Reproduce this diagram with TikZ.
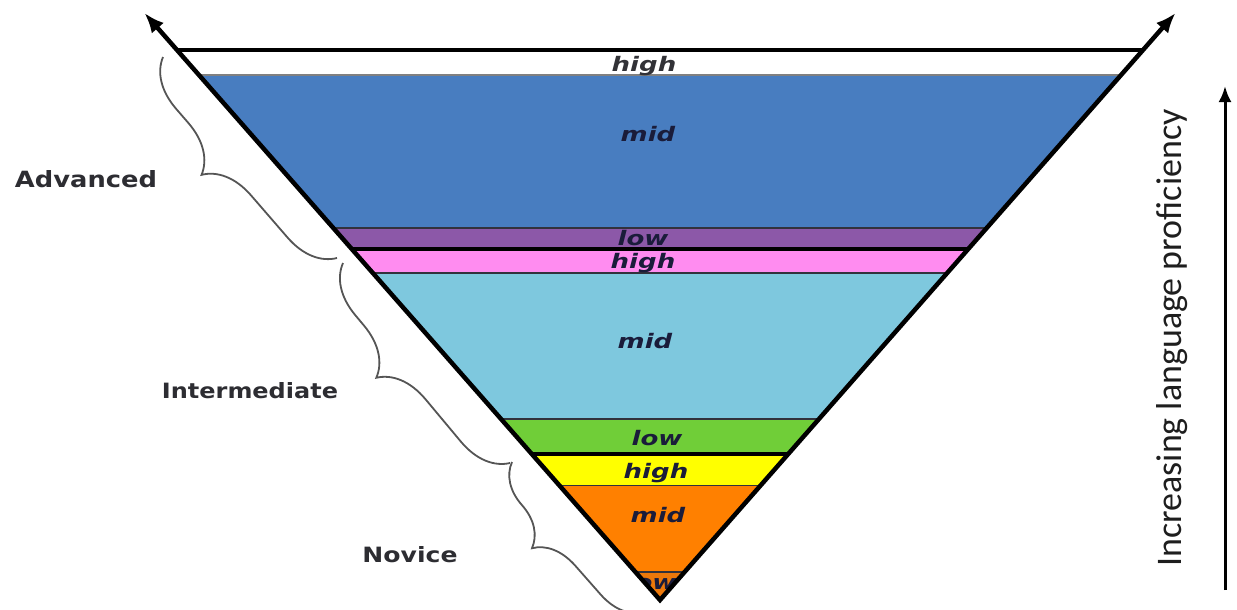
\documentclass[tikz,border=0pt]{standalone}
\usepackage{fontspec}
\setmainfont{DejaVu Sans}
\newfontfamily\carl{Carlito}
\newfontfamily\bandfam{DejaVu Sans}
\usetikzlibrary{decorations.pathreplacing,arrows.meta}
\definecolor{bandblue}{RGB}{72,125,192}
\definecolor{bandpurple}{RGB}{140,88,168}
\definecolor{bandpink}{RGB}{255,140,240}
\definecolor{bandlight}{RGB}{126,200,222}
\definecolor{bandgreen}{RGB}{112,206,56}
\definecolor{bandyellow}{RGB}{255,255,0}
\definecolor{bandorange}{RGB}{255,128,0}
\definecolor{banddark}{RGB}{236,120,10}
\definecolor{labcol}{RGB}{26,28,58}
\definecolor{sidecol}{RGB}{45,45,50}
\definecolor{sepcol}{RGB}{50,50,60}
\definecolor{bracecol}{RGB}{85,85,85}
\begin{document}
\begin{tikzpicture}[x=1pt,y=-1pt,
  bandlabel/.style={font=\bandfam\bfseries\itshape\fontsize{20pt}{22pt}\selectfont, text=labcol, xscale=1.3, inner sep=0pt},
  sidelabel/.style={font=\bfseries, text=sidecol, inner sep=0pt},
  sepline/.style={draw=sepcol, line width=1.2pt},
  bigsep/.style={draw=black, line width=4pt},
  bracestyle/.style={draw=bracecol, line width=1.8pt, decorate},
  edgeline/.style={draw=black, line width=4.5pt, line join=miter}
]
\useasboundingbox (0,0) rectangle (1237,610);
\coordinate (L) at (177,50);
\coordinate (R) at (1143,50);
\coordinate (A) at (660,600);
\coordinate (LT) at (144.5,13);
\coordinate (RT) at (1175.5,13);

\begin{scope}
  \clip (L) -- (R) -- (A) -- cycle;
  \fill[white] (0,50) rectangle (1237,75);
  \fill[bandblue] (0,75) rectangle (1237,228);
  \fill[bandpurple] (0,228) rectangle (1237,249);
  \fill[bandpink] (0,249) rectangle (1237,273);
  \fill[bandlight] (0,273) rectangle (1237,419);
  \fill[bandgreen] (0,419) rectangle (1237,454);
  \fill[bandyellow] (0,454) rectangle (1237,485);
  \fill[bandorange] (0,485) rectangle (1237,572);
  \fill[banddark] (0,572) rectangle (1237,610);
  \draw[sepline, draw=gray] (0,75) -- (1237,75);
  \draw[sepline] (0,228) -- (1237,228);
  \draw[bigsep] (0,249) -- (1237,249);
  \draw[sepline] (0,273) -- (1237,273);
  \draw[sepline] (0,419) -- (1237,419);
  \draw[bigsep] (0,454) -- (1237,454);
  \draw[sepline, line width=0.6pt] (0,485) -- (1237,485);
  \draw[sepline] (0,572) -- (1237,572);
  \node[bandlabel, text={rgb,255:red,50;green,50;blue,55}] (h1) at (644,66) {high};
  \node[bandlabel] (m1) at (648,134) {mid};
  \node[bandlabel] (l1) at (643,238) {low};
  \node[bandlabel] (h2) at (643,263) {high};
  \node[bandlabel] (m2) at (645,341) {mid};
  \node[bandlabel] (l2) at (657,438) {low};
  \node[bandlabel] (h3) at (656,473) {high};
  \node[bandlabel] (m3) at (658,515) {mid};
  \node[bandlabel] (l3) at (651,582) {low};
\end{scope}

\draw[line width=3.5pt] (L) -- (R);
\draw[edgeline, {Latex[length=20pt,width=16pt]}-{Latex[length=20pt,width=16pt]}] (LT) -- (A) -- (RT);

% braces
\coordinate (b1s) at (163,57);
\coordinate (b1e) at (337,258);
\coordinate (b2s) at (343,263);
\coordinate (b2e) at (510,463);
\coordinate (b3s) at (512,462);
\coordinate (b3e) at (644,612);
\draw[bracestyle, decoration={brace,amplitude=48pt,aspect=0.57}] (b1e) -- (b1s);
\draw[bracestyle, decoration={brace,amplitude=48pt,aspect=0.58}] (b2e) -- (b2s);
\draw[bracestyle, decoration={brace,amplitude=42pt,aspect=0.61}] (b3e) -- (b3s);

% side labels
\node[sidelabel] (adv) at (86,179) {\resizebox{142pt}{17pt}{Advanced}};
\node[sidelabel] (int) at (250,391) {\resizebox{176pt}{16pt}{Intermediate}};
\node[sidelabel] (nov) at (410,555) {\resizebox{95pt}{16pt}{Novice}};

% right label and arrow
\node[rotate=90, inner sep=0pt, text={rgb,255:red,30;green,30;blue,30}] (prof) at (1172,338) {\resizebox{457pt}{25pt}{\carl Increasing language proficiency}};
\coordinate (vb) at (1225,590);
\coordinate (vt) at (1225,86);
\draw[line width=3pt, -{Latex[length=16pt,width=13pt]}] (vb) -- (vt);
\end{tikzpicture}
\end{document}
